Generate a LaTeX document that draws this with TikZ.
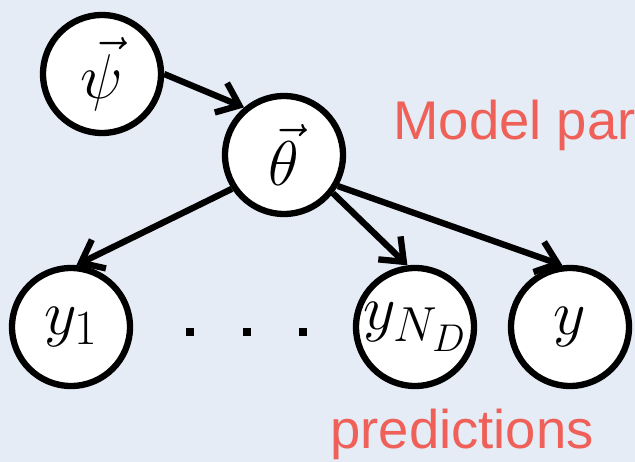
\RequirePackage{fix-cm}
\documentclass[tikz,border=0pt]{standalone}
\usepackage{fontspec}
\setsansfont{Liberation Sans}
\usetikzlibrary{arrows.meta, positioning}
\DeclareMathSizes{36}{36}{28}{22}
\definecolor{bgblue}{RGB}{229,236,246}
\definecolor{notered}{RGB}{238,96,88}

\begin{document}
\begin{tikzpicture}[
                x=0.02cm, y=-0.02cm,
                >={Straight Barb[length=4mm, width=6.4mm]},
                var/.style={circle, draw, fill=white, line width=3.6pt, minimum size=2.36cm, inner sep=0pt, font=\fontsize{36}{40}\selectfont},
                edge/.style={line width=3.6pt, ->},
                note/.style={text=notered, font=\sffamily\fontsize{31}{36}\selectfont, anchor=base west, inner sep=0pt},
                dot/.style={fill=black, minimum size=0.16cm, inner sep=0pt}
            ]
                \fill[bgblue] (0,0) rectangle (635,462);
                \useasboundingbox (0,0) rectangle (635,462);
                \node[var] (psi) at (102,74) {$\vec{\psi}$};
                \node[var] (theta) at (284,155) {$\vec{\theta}$};
                \node[var] (y1) at (71,327) {$y_1$};
                \node[var] (yND) at (415,327) {$y_{N_D}$};
                \node[var] (y) at (570,327) {$y$};
                \foreach \x [count=\i] in {190,247,303}
                    \node[dot] (d\i) at (\x,332) {};
                \node[note] (model) at (393,140) {Model par};
                \node[note] (pred) at (330,448) {predictions};
                \draw[edge] (psi.east) -- (theta.130);
                \draw[edge] (theta.213) -- (y1.85);
                \draw[edge] (theta.322) -- (yND.97);
                \draw[edge] (theta.330) -- (y.97);
            \end{tikzpicture}
\end{document}
